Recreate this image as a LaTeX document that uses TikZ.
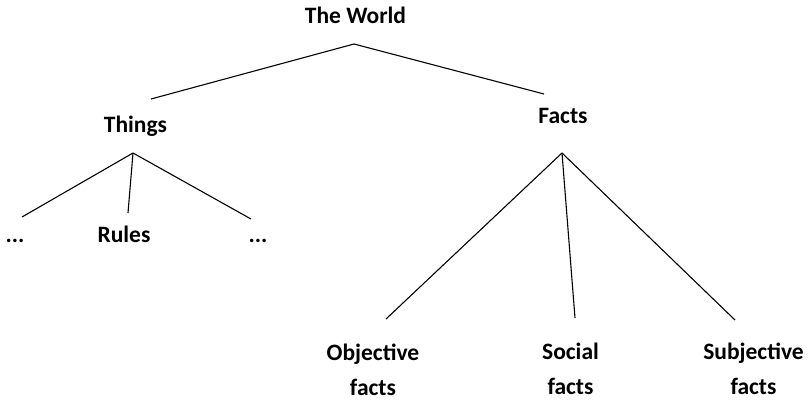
\documentclass[tikz,border=0pt]{standalone}
\usepackage{fontspec}
\setmainfont{Carlito}
\begin{document}
\begin{tikzpicture}[x=1pt,y=-1pt,
  lbl/.style={font=\fontsize{23.5}{35}\selectfont\bfseries, align=center, inner sep=0pt, anchor=base},
  edge/.style={draw=black, line width=1.1pt}]
\useasboundingbox (0,0) rectangle (808,402);
\node[lbl] (world) at (355.5,23) {The World};
\node[lbl] (things) at (135.5,132) {Things};
\node[lbl] (facts) at (563,123) {Facts};
\node[lbl] (dl) at (15,242) {...};
\node[lbl] (rules) at (124,242) {Rules};
\node[lbl] (dr) at (258,242) {...};
\node[lbl] (obj) at (373,395) {Objective\\facts};
\node[lbl] (soc) at (570.5,394) {Social\\facts};
\node[lbl] (subj) at (753.5,394) {Subjective\\facts};
\coordinate (wa) at (354,44);
\coordinate (wl) at (151,99);
\coordinate (wr) at (544,94);
\coordinate (ta) at (133,153);
\coordinate (t1) at (22,217);
\coordinate (t2) at (128,213);
\coordinate (t3) at (251,219);
\coordinate (fa) at (562,153);
\coordinate (f1) at (386,319);
\coordinate (f2) at (575,318);
\coordinate (f3) at (735,320);
\draw[edge] (wl) -- (wa) -- (wr);
\draw[edge] (ta) -- (t1);
\draw[edge] (ta) -- (t2);
\draw[edge] (ta) -- (t3);
\draw[edge] (fa) -- (f1);
\draw[edge] (fa) -- (f2);
\draw[edge] (fa) -- (f3);
\end{tikzpicture}
\end{document}
